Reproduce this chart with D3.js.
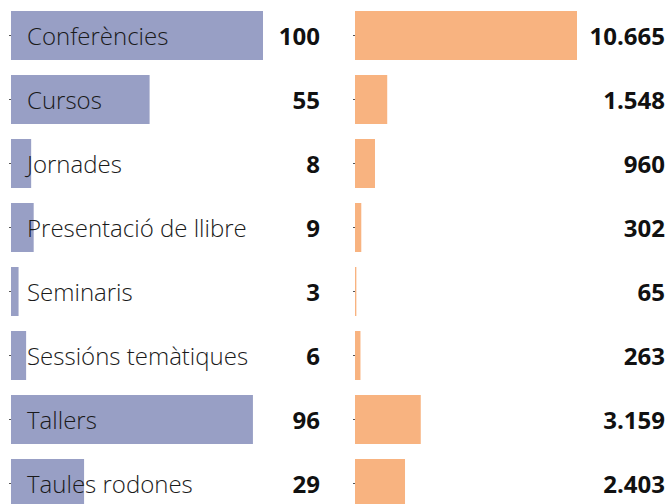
<!DOCTYPE html>
<html>
<head>
<meta charset="utf-8">
<script src="https://cdn.jsdelivr.net/npm/d3@7"></script>
<style>
  body { margin: 0; background: #fff; }
  svg { display: block; font-family: "Open Sans", sans-serif; }
</style>
</head>
<body>
<svg id="chart" width="669" height="504"></svg>
<script>
const categories = ["Conferències", "Cursos", "Jornades", "Presentació de llibre",
    "Seminaris", "Sessións temàtiques", "Tallers", "Taules rodones"];
const activities = [100, 55, 8, 9, 3, 6, 96, 29];
const attendees = [10665, 1548, 960, 302, 65, 263, 3159, 2403];

const width = 669, height = 504;
const svg = d3.select("#chart");

const locale = d3.formatLocale({ decimal: ",", thousands: ".", grouping: [3], currency: ["", "€"] });
const fmt = locale.format(",d");

const y = d3.scaleBand()
    .domain(categories)
    .range([3.5, 515.5])
    .paddingInner(15 / 64)
    .paddingOuter(15 / 128);

// left panel: number of activities
const xLeft = d3.scaleLinear().domain([0, 100]).range([11, 263]);
// right panel: attendees
const xRight = d3.scaleLinear().domain([0, 10665]).range([355, 577]);

function panel(x, data, color, valueX, showLabels) {
    const g = svg.append("g");

    g.selectAll("rect")
        .data(data)
        .join("rect")
        .attr("x", x(0))
        .attr("y", (d, i) => y(categories[i]))
        .attr("width", d => x(d) - x(0))
        .attr("height", y.bandwidth())
        .attr("fill", color);

    const axis = g.append("g")
        .attr("transform", `translate(${x(0)},0)`)
        .call(d3.axisLeft(y).tickSize(2).tickFormat(""));
    axis.select(".domain").remove();
    axis.selectAll("line").attr("stroke", "#555");

    if (showLabels) {
        g.selectAll("text.label")
            .data(categories)
            .join("text")
            .attr("class", "label")
            .attr("x", x(0) + 16)
            .attr("y", d => y(d) + y.bandwidth() / 2)
            .attr("dy", "0.4em")
            .attr("font-size", 24)
            .attr("font-weight", 300)
            .attr("fill", "#1a1a1a")
            .text(d => d);
    }

    g.selectAll("text.value")
        .data(data)
        .join("text")
        .attr("class", "value")
        .attr("x", valueX)
        .attr("y", (d, i) => y(categories[i]) + y.bandwidth() / 2)
        .attr("dy", "0.4em")
        .attr("text-anchor", "end")
        .attr("font-size", 24)
        .attr("font-weight", "bold")
        .attr("fill", "#111")
        .text(d => fmt(d));
}

panel(xLeft, activities, "#989fc5", 320, true);
panel(xRight, attendees, "#f8b380", 665, false);
</script>
</body>
</html>
